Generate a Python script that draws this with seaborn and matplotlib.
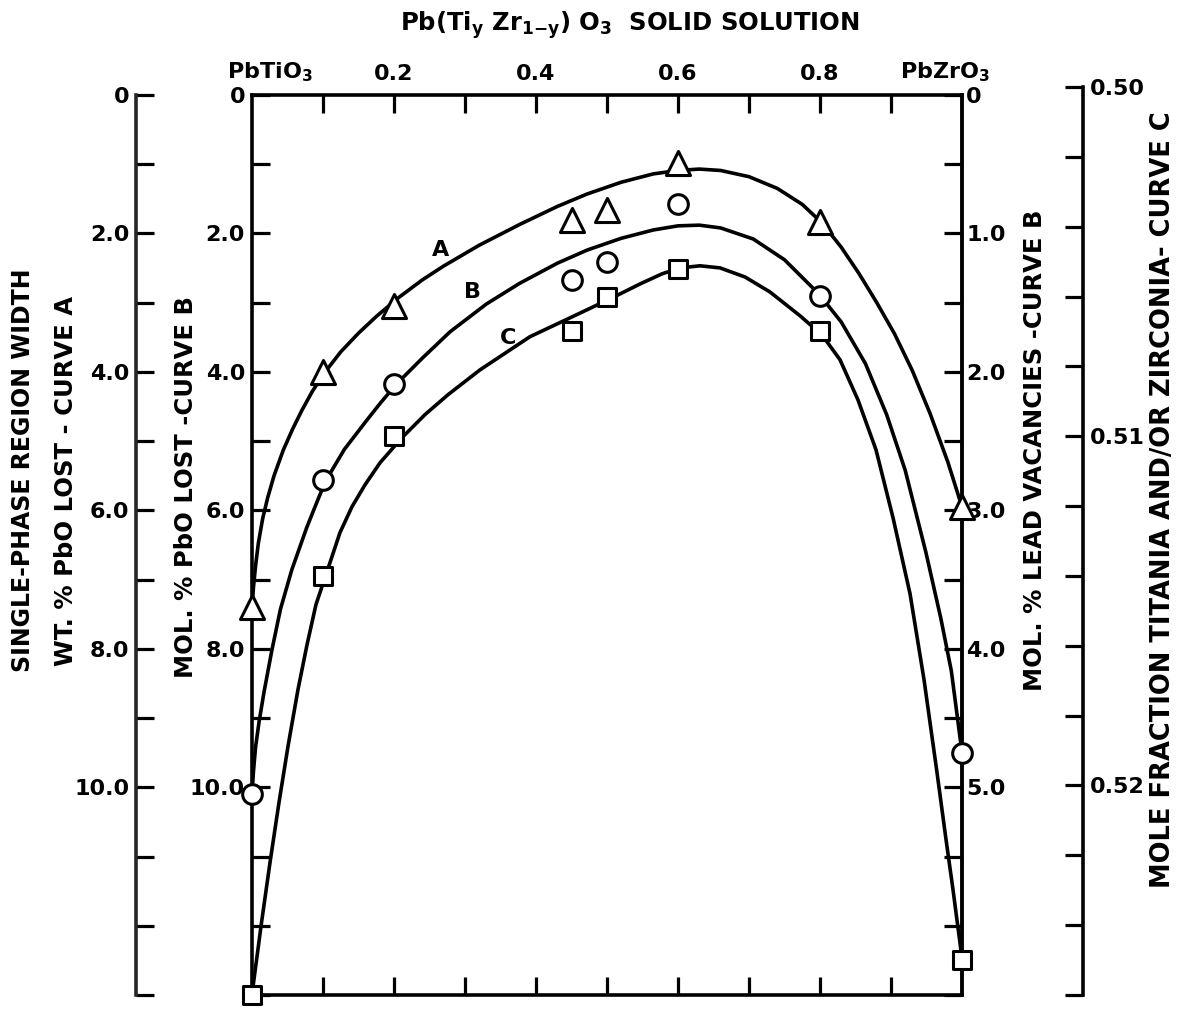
import matplotlib
matplotlib.use("Agg")
import matplotlib.pyplot as plt
import pandas as pd
import seaborn as sns

# composition y in Pb(Ti_y Zr_1-y)O3 for the measured points
compositions = [0.0, 0.1, 0.2, 0.45, 0.5, 0.6, 0.8, 1.0]
# curve A: wt. % PbO lost (single-phase region width)
pointsA = [7.4, 4.0, 3.05, 1.8, 1.66, 0.98, 1.84, 5.95]
# curve B: mol. % PbO lost
pointsB = [10.1, 5.56, 4.18, 2.67, 2.41, 1.57, 2.9, 9.5]
# curve C: mole fraction titania and/or zirconia
pointsC = [0.5260, 0.5140, 0.5100, 0.5070, 0.5060, 0.5052, 0.5070, 0.5250]

# the hand drawn curves
curveAx = [0.0, 0.002, 0.005, 0.009, 0.015, 0.022, 0.031, 0.044, 0.057, 0.070, 0.085, 0.103, 0.125,
           0.150, 0.175, 0.206, 0.240, 0.270, 0.320, 0.377, 0.430, 0.472, 0.520, 0.565, 0.600, 0.630,
           0.660, 0.700, 0.740, 0.775, 0.803, 0.830, 0.855, 0.880, 0.905, 0.930, 0.955, 0.980, 1.0]
curveAy = [7.40, 7.12, 6.80, 6.47, 6.12, 5.82, 5.50, 5.13, 4.83, 4.56, 4.28, 4.00, 3.71,
           3.44, 3.20, 2.93, 2.67, 2.47, 2.17, 1.87, 1.61, 1.43, 1.26, 1.14, 1.09, 1.07,
           1.09, 1.18, 1.35, 1.58, 1.85, 2.20, 2.58, 3.00, 3.45, 3.98, 4.60, 5.30, 5.95]
curveBx = [0.0, 0.002, 0.005, 0.010, 0.017, 0.028, 0.040, 0.056, 0.077, 0.093, 0.104, 0.130, 0.160,
           0.180, 0.203, 0.240, 0.279, 0.330, 0.377, 0.430, 0.472, 0.520, 0.565, 0.600, 0.630, 0.660,
           0.706, 0.750, 0.799, 0.830, 0.864, 0.894, 0.920, 0.949, 0.970, 0.985, 1.0]
curveBy = [10.10, 9.78, 9.42, 9.05, 8.62, 8.02, 7.43, 6.86, 6.25, 5.84, 5.57, 5.12, 4.72,
           4.46, 4.18, 3.80, 3.42, 3.02, 2.72, 2.43, 2.24, 2.07, 1.95, 1.89, 1.88, 1.92,
           2.08, 2.38, 2.88, 3.28, 3.88, 4.62, 5.42, 6.60, 7.55, 8.32, 9.50]
curveCx = [0.0, 0.0127, 0.0254, 0.0380, 0.0507, 0.0648, 0.0775, 0.0901, 0.1028, 0.1239, 0.1408,
           0.1592, 0.1803, 0.2113, 0.2437, 0.2761, 0.3211, 0.3915, 0.4479, 0.5070, 0.5465, 0.5775,
           0.6028, 0.6310, 0.6592, 0.6944, 0.7296, 0.7718, 0.8028, 0.8282, 0.8535, 0.8789, 0.9028,
           0.9268, 0.9465, 0.9648, 0.9775, 0.9873, 1.0]
curveCy = [0.52598, 0.52403, 0.52220, 0.52049, 0.51888, 0.51725, 0.51597, 0.51482, 0.51405, 0.51276, 0.51202,
           0.51139, 0.51076, 0.51004, 0.50938, 0.50881, 0.50810, 0.50715, 0.50661, 0.50604, 0.50564, 0.50535,
           0.50518, 0.50512, 0.50518, 0.50544, 0.50587, 0.50655, 0.50710, 0.50781, 0.50896, 0.51039, 0.51233,
           0.51451, 0.51697, 0.51963, 0.52155, 0.52298, 0.52495]

topTicks = [0.1, 0.2, 0.3, 0.4, 0.5, 0.6, 0.7, 0.8, 0.9]
topLabels = ["", "0.2", "", "0.4", "", "0.6", "", "0.8", ""]
leftTicks = list(range(14))
leftLabels = ["0", "", "2.0", "", "4.0", "", "6.0", "", "8.0", "", "10.0", "", "", ""]
vacancyTicks = [i * 0.5 for i in range(14)]
vacancyLabels = ["0", "", "1.0", "", "2.0", "", "3.0", "", "4.0", "", "5.0", "", "", ""]
fractionTicks = [0.500 + 0.002 * i for i in range(14)]
fractionLabels = ["0.50", "", "", "", "", "0.51", "", "", "", "", "0.52", "", "", ""]

sns.set_theme(style="white")
plt.rcParams["font.family"] = ["DejaVu Sans"]
plt.rcParams["font.weight"] = "bold"
plt.rcParams["mathtext.default"] = "regular"

W, H = 1191, 1018
fig = plt.figure(figsize=(W / 100, H / 100), dpi=100)
ax = fig.add_axes([252 / W, 1 - 995 / H, 710 / W, 900 / H])
ax.set_xlim(0, 1)
ax.set_ylim(13, 0)
for s in ax.spines.values():
    s.set_linewidth(2.6)
    s.set_color("black")

tickKw = dict(direction="in", length=13, width=2.3, colors="black", labelsize=16)
ax.set_xticks(topTicks, topLabels)
ax.tick_params(axis="x", top=True, bottom=True, labeltop=True, labelbottom=False, pad=8, **tickKw)
ax.set_yticks(leftTicks, leftLabels)
ax.tick_params(axis="y", left=True, right=False, pad=5, **tickKw)

# inner right axis: lead vacancies = half of PbO lost
vacancyAxis = ax.secondary_yaxis("right", functions=(lambda v: v / 2, lambda v: v * 2))
vacancyAxis.set_yticks(vacancyTicks, vacancyLabels)
vacancyAxis.tick_params(axis="y", pad=3, **tickKw)
vacancyAxis.spines["right"].set_linewidth(2.6)

# outer left axis: wt. % PbO lost
weightAxis = ax.secondary_yaxis(-0.163)
weightAxis.set_yticks(leftTicks, leftLabels)
weightAxis.tick_params(axis="y", pad=5, **tickKw)
weightAxis.spines["left"].set_linewidth(2.6)

# outer right axis: mole fraction, its own scale
axC = fig.add_axes([252 / W, 1 - 995 / H, 710 / W, 908 / H])
axC.patch.set_visible(False)
axC.set_xlim(0, 1)
axC.set_ylim(0.526, 0.500)
axC.set_xticks([])
for side in ["left", "top", "bottom"]:
    axC.spines[side].set_visible(False)
axC.spines["right"].set_position(("axes", 1.170))
axC.spines["right"].set_linewidth(2.6)
axC.spines["right"].set_color("black")
axC.yaxis.tick_right()
axC.set_yticks(fractionTicks, fractionLabels)
axC.tick_params(axis="y", pad=5, **tickKw)

lineKw = dict(color="black", lw=2.6, sort=False, estimator=None, legend=False)
sns.lineplot(data=pd.DataFrame({"y": curveAx, "v": curveAy}), x="y", y="v", ax=ax, **lineKw)
sns.lineplot(data=pd.DataFrame({"y": curveBx, "v": curveBy}), x="y", y="v", ax=ax, **lineKw)
sns.lineplot(data=pd.DataFrame({"y": curveCx, "v": curveCy}), x="y", y="v", ax=axC, **lineKw)

markKw = dict(color="white", edgecolor="black", linewidth=2.2, zorder=4, clip_on=False, legend=False)
sns.scatterplot(x=compositions, y=pointsA, marker="^", s=300, ax=ax, **markKw)
sns.scatterplot(x=compositions, y=pointsB, marker="o", s=200, ax=ax, **markKw)
sns.scatterplot(x=compositions, y=pointsC, marker="s", s=170, ax=axC, **markKw)

for a in (ax, axC):
    a.set_xlabel("")
    a.set_ylabel("")

textKw = dict(color="black", fontweight="bold", ha="center", va="center")
ax.text(0.265, 2.24, "A", fontsize=16, **textKw)
ax.text(0.31, 2.85, "B", fontsize=16, **textKw)
ax.text(0.36, 3.51, "C", fontsize=16, **textKw)

fig.text(630 / W, 1 - 25 / H, r"Pb(Ti$_{y}$ Zr$_{1\mathsf{-}y}$) O$_3$  SOLID SOLUTION", fontsize=17.5, **textKw)
fig.text(270 / W, 1 - 72 / H, r"PbTiO$_3$", fontsize=16, **textKw)
fig.text(945 / W, 1 - 72 / H, r"PbZrO$_3$", fontsize=16, **textKw)

fig.text(23 / W, 1 - 470 / H, "SINGLE-PHASE REGION WIDTH", rotation=90, fontsize=17, **textKw)
fig.text(66 / W, 1 - 481 / H, "WT. % PbO LOST - CURVE A", rotation=90, fontsize=17.5, **textKw)
fig.text(186 / W, 1 - 487 / H, "MOL. % PbO LOST -CURVE B", rotation=90, fontsize=17.5, **textKw)
fig.text(1035 / W, 1 - 450 / H, "MOL. % LEAD VACANCIES -CURVE B", rotation=90, fontsize=17.5, **textKw)
fig.text(1163 / W, 1 - 500 / H, "MOLE FRACTION TITANIA AND/OR ZIRCONIA- CURVE C", rotation=90,
         fontsize=18.5, **textKw)

fig.savefig("out.png", dpi=100)
